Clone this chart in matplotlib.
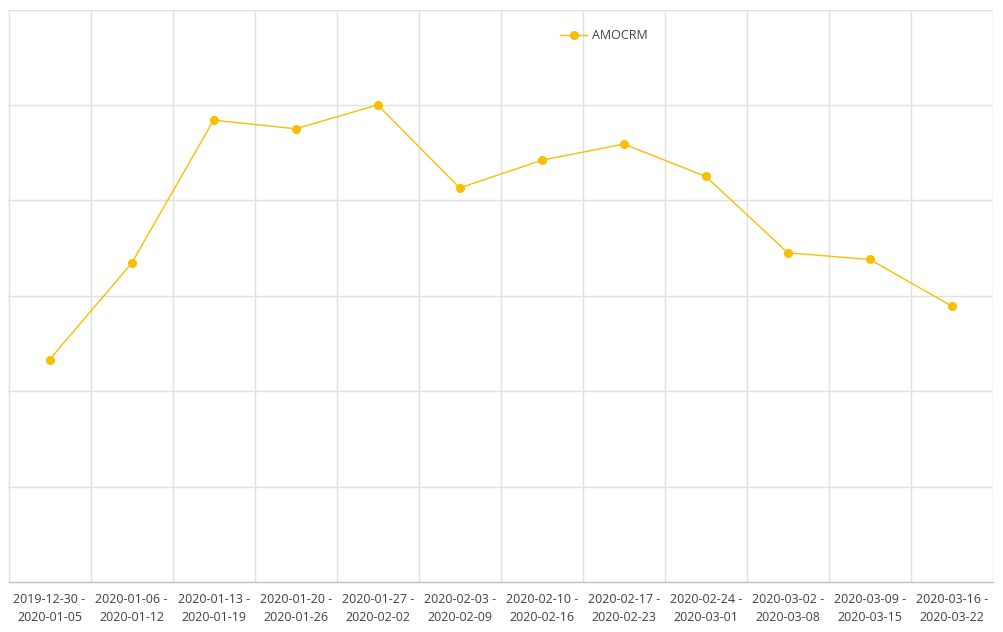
import matplotlib
matplotlib.use("Agg")
import matplotlib.pyplot as plt

categories = ["2019-12-30 -\n2020-01-05", "2020-01-06 -\n2020-01-12", "2020-01-13 -\n2020-01-19",
              "2020-01-20 -\n2020-01-26", "2020-01-27 -\n2020-02-02", "2020-02-03 -\n2020-02-09",
              "2020-02-10 -\n2020-02-16", "2020-02-17 -\n2020-02-23", "2020-02-24 -\n2020-03-01",
              "2020-03-02 -\n2020-03-08", "2020-03-09 -\n2020-03-15", "2020-03-16 -\n2020-03-22"]
amocrm = [2.33, 3.34, 4.84, 4.75, 5.0, 4.13, 4.42, 4.59, 4.25, 3.45, 3.38, 2.89]

plt.rcParams['font.family'] = ['Open Sans', 'DejaVu Sans']
fig = plt.figure(figsize=(10.04, 6.32), dpi=100)
ax = fig.add_axes([8.5/1004, (632-582)/632, (993-8.5)/1004, (582-9.5)/632])

n = len(categories)
x = list(range(n))
ax.plot(x, amocrm, color="#F5C000", lw=1.0, marker="o", ms=5.5, mec="#F5C000", mfc="#F5C000",
        label="AMOCRM", zorder=3)

ax.set_xlim(-0.5, n - 0.5)
ax.set_ylim(0, 6)
ax.set_yticks([1, 2, 3, 4, 5, 6])
ax.set_yticklabels([])
ax.tick_params(axis='y', length=0)
ax.set_xticks(x)
ax.set_xticklabels(categories, fontsize=9, color="#404040", linespacing=1.5)
ax.tick_params(axis='x', length=0, pad=8)
ax.set_xticks([i - 0.5 for i in range(n + 1)], minor=True)
ax.grid(True, which='minor', axis='x', color="#E0E0E0", lw=1)
ax.grid(True, which='major', axis='y', color="#E0E0E0", lw=1)
ax.tick_params(which='minor', length=0)
for s in ['top', 'right', 'left']:
    ax.spines[s].set_visible(False)
ax.spines['bottom'].set_color("#BFBFBF")
ax.spines['bottom'].set_linewidth(1)

leg = ax.legend(loc='upper center', bbox_to_anchor=(0.605, 0.985), frameon=False, fontsize=9,
                handlelength=2.2, handletextpad=0.4)
for t in leg.get_texts():
    t.set_color("#404040")

fig.savefig("out.png", dpi=100, facecolor="white")
